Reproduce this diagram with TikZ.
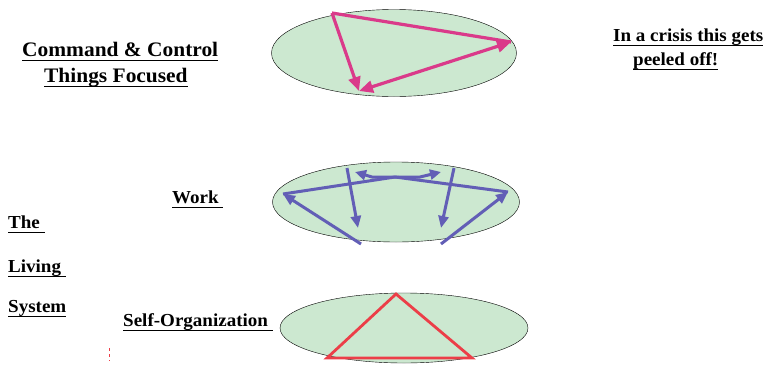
\documentclass[tikz,border=0pt]{standalone}
\usepackage{fontspec}
\setmainfont{Liberation Serif}[FakeStretch=1.04]
\usetikzlibrary{shapes.geometric,arrows.meta}
\definecolor{ovalgreen}{RGB}{204,232,208}
\definecolor{ccpink}{RGB}{218,58,138}
\definecolor{workblue}{RGB}{98,94,182}
\definecolor{selfred}{RGB}{236,62,72}
% unterstrichener Text mit dickerer Linie
\newcommand{\ulin}[1]{\setbox0\hbox{#1}\rlap{\copy0}\raisebox{-5pt}{\rule{\wd0}{1.3pt}}}
\begin{document}
\begin{tikzpicture}[x=1pt,y=-1pt,
    oval/.style={ellipse, draw=black, thin, fill=ovalgreen, inner sep=0pt},
    lbl/.style={anchor=base west, inner sep=0pt, font=\bfseries\fontsize{18.3}{21}\selectfont},
    biglbl/.style={lbl, font=\bfseries\fontsize{20.6}{24}\selectfont},
    ccline/.style={draw=ccpink, line width=3.2pt},
    ccarrow/.style={ccline, -{Triangle[length=14pt,width=12pt]}},
    wline/.style={draw=workblue, line width=3pt},
    warrow/.style={wline, -{Triangle[length=12pt,width=10pt]}}]
    \useasboundingbox (0,0) rectangle (768,367);

    % Ovale
    \node[oval, minimum width=245pt, minimum height=87pt] (ccoval) at (394,53) {};
    \node[oval, minimum width=247pt, minimum height=80pt] (workoval) at (396,202) {};
    \node[oval, minimum width=248pt, minimum height=70pt] (selfoval) at (404,328) {};

    % Beschriftungen
    \node[biglbl] (cmd) at (22,56) {\ulin{Command \& Control}};
    \node[biglbl] (things) at (44,82) {\ulin{Things Focused}};
    \node[lbl] (crisis) at (613,41) {\ulin{In a crisis this gets}};
    \node[lbl] (peeled) at (633,65) {\ulin{peeled off!}};
    \node[lbl] (work) at (172,203) {\ulin{Work\ }};
    \node[lbl] (the) at (8,228) {\ulin{The\ }};
    \node[lbl] (living) at (8,272) {\ulin{Living\ }};
    \node[lbl] (system) at (8,312) {\ulin{System}};
    \node[lbl] (selforg) at (123,326) {\ulin{Self-Organization\ }};

    % Command & Control: Dreieck
    \coordinate (ccA) at (332,13);
    \coordinate (ccB) at (511,42);
    \coordinate (ccC) at (359,91);
    \draw[ccline] (ccA) -- (ccB);
    \draw[ccarrow] (ccA) -- (ccC);
    \draw[ccline, {Triangle[length=14pt,width=12pt]}-{Triangle[length=14pt,width=12pt]}] (ccC) -- (ccB);

    % Work: Pfeile
    \coordinate (wL) at (283,194);
    \coordinate (wR) at (508,192);
    \coordinate (wT) at (395,177);
    \coordinate (wBL) at (361,244);
    \coordinate (wBR) at (441,244);
    \draw[wline] (wL) -- (wT) -- (wR);
    \draw[warrow] (wBL) -- (wL);
    \draw[warrow] (wBR) -- (wR);
    \draw[warrow] (347,168) -- (358,228);
    \draw[warrow] (454,168) -- (441,228);
    \draw[wline, {Triangle[length=11pt,width=10pt]}-{Triangle[length=11pt,width=10pt]}]
        (355,172) -- (372,177) -- (420,177) -- (441,172);

    % Self-Organization: Dreieck
    \coordinate (sT) at (396,294);
    \coordinate (sL) at (327,358);
    \coordinate (sR) at (472,358);
    \draw[selfred, line width=2.8pt, line join=miter] (sT) -- (sL) -- (sR) -- cycle;

    % kleine rote Markierung
    \draw[selfred, line width=1pt, dash pattern=on 3pt off 3pt] (109,348) -- (109,361);
\end{tikzpicture}
\end{document}
